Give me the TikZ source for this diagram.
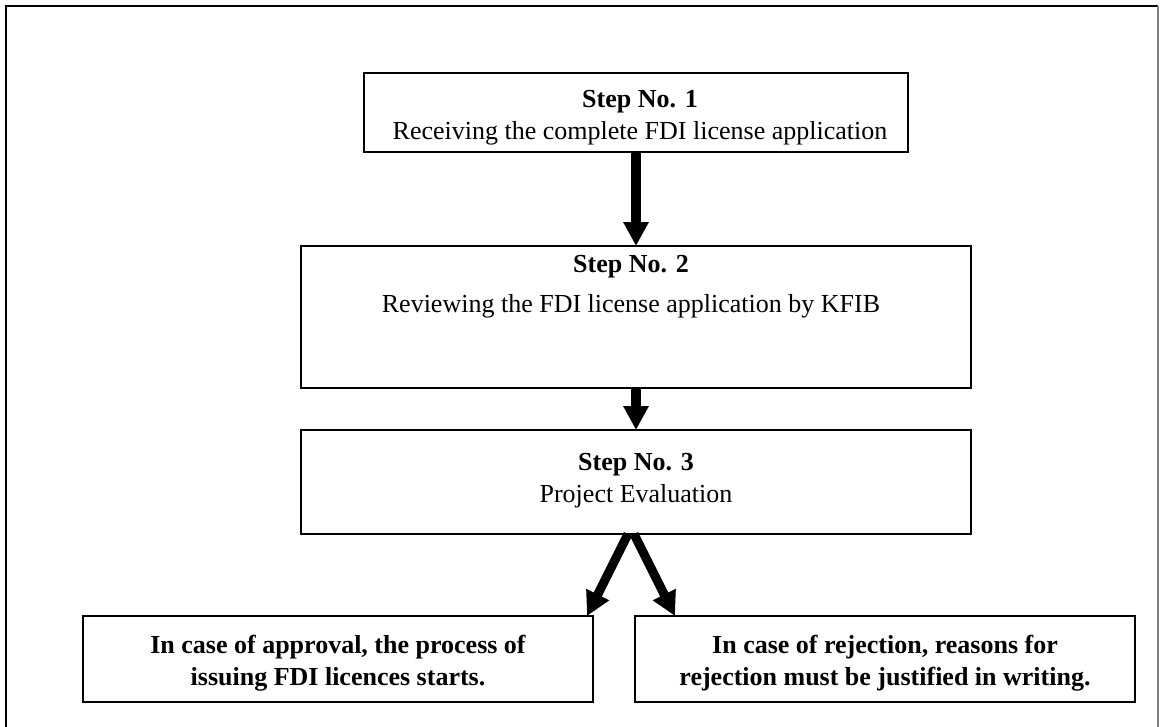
\documentclass[tikz,border=0pt]{standalone}
\usepackage{fontspec}
\setmainfont{Liberation Serif}
\usetikzlibrary{arrows.meta,calc}
\begin{document}
\begin{tikzpicture}[x=0.75pt,y=-0.75pt,
  stepbox/.style={draw=black,line width=1.5pt,fill=white,inner sep=0pt,outer sep=0pt},
  lbl/.style={anchor=base,inner sep=0pt,font=\fontsize{19.5}{24.5}\selectfont},
  arr/.style={line width=6.8pt,-{Triangle[width=18pt,length=18pt]}}]
\useasboundingbox (0,0) rectangle (1161,726);
\fill[white] (0,0) rectangle (1161,726);
% outer frame
\draw[line width=2.2pt] (6,730) -- (6,6) -- (1158,6);
\draw[gray,line width=1.2pt] (1158,6) -- (1158,730);
% boxes
\node[stepbox,minimum width=408pt,minimum height=59.25pt] (s1) at (636,112.5) {};
\node[stepbox,minimum width=502.5pt,minimum height=106.5pt] (s2) at (636,317) {};
\node[stepbox,minimum width=502.5pt,minimum height=78pt] (s3) at (636,482) {};
\node[stepbox,minimum width=382.5pt,minimum height=64.5pt] (bl) at (338,659) {};
\node[stepbox,minimum width=375pt,minimum height=64.5pt] (br) at (885,659) {};
% texts
\node[lbl] (t1) at (640,107) {\begin{tabular}[t]{@{}c@{}}\textbf{Step No. 1}\\Receiving the complete FDI license application\end{tabular}};
\node[lbl,font=\fontsize{19.5}{30}\selectfont] (t2) at (631,272) {\begin{tabular}[t]{@{}c@{}}\textbf{Step No. 2}\\Reviewing the FDI license application by KFIB\end{tabular}};
\node[lbl,font=\fontsize{19.5}{24}\selectfont] (t3) at (636,470) {\begin{tabular}[t]{@{}c@{}}\textbf{Step No. 3}\\Project Evaluation\end{tabular}};
\node[lbl,font=\fontsize{19.5}{24}\selectfont\bfseries] (t4) at (338,653) {\begin{tabular}[t]{@{}c@{}}In case of approval, the process of\\issuing FDI licences starts.\end{tabular}};
\node[lbl,font=\fontsize{19.5}{24}\selectfont\bfseries] (t5) at (885,653) {\begin{tabular}[t]{@{}c@{}}In case of rejection, reasons for\\rejection must be justified in writing.\end{tabular}};
% arrows
\draw[arr] (s1.south) -- (s2.north);
\draw[arr] (s2.south) -- (s3.north);
\draw[arr] ($(s3.south)+(-8,0)$) -- ($(bl.north east)+(-6,0)$);
\draw[arr] ($(s3.south)+(-2,0)$) -- ($(br.north west)+(40,0)$);
\end{tikzpicture}
\end{document}
